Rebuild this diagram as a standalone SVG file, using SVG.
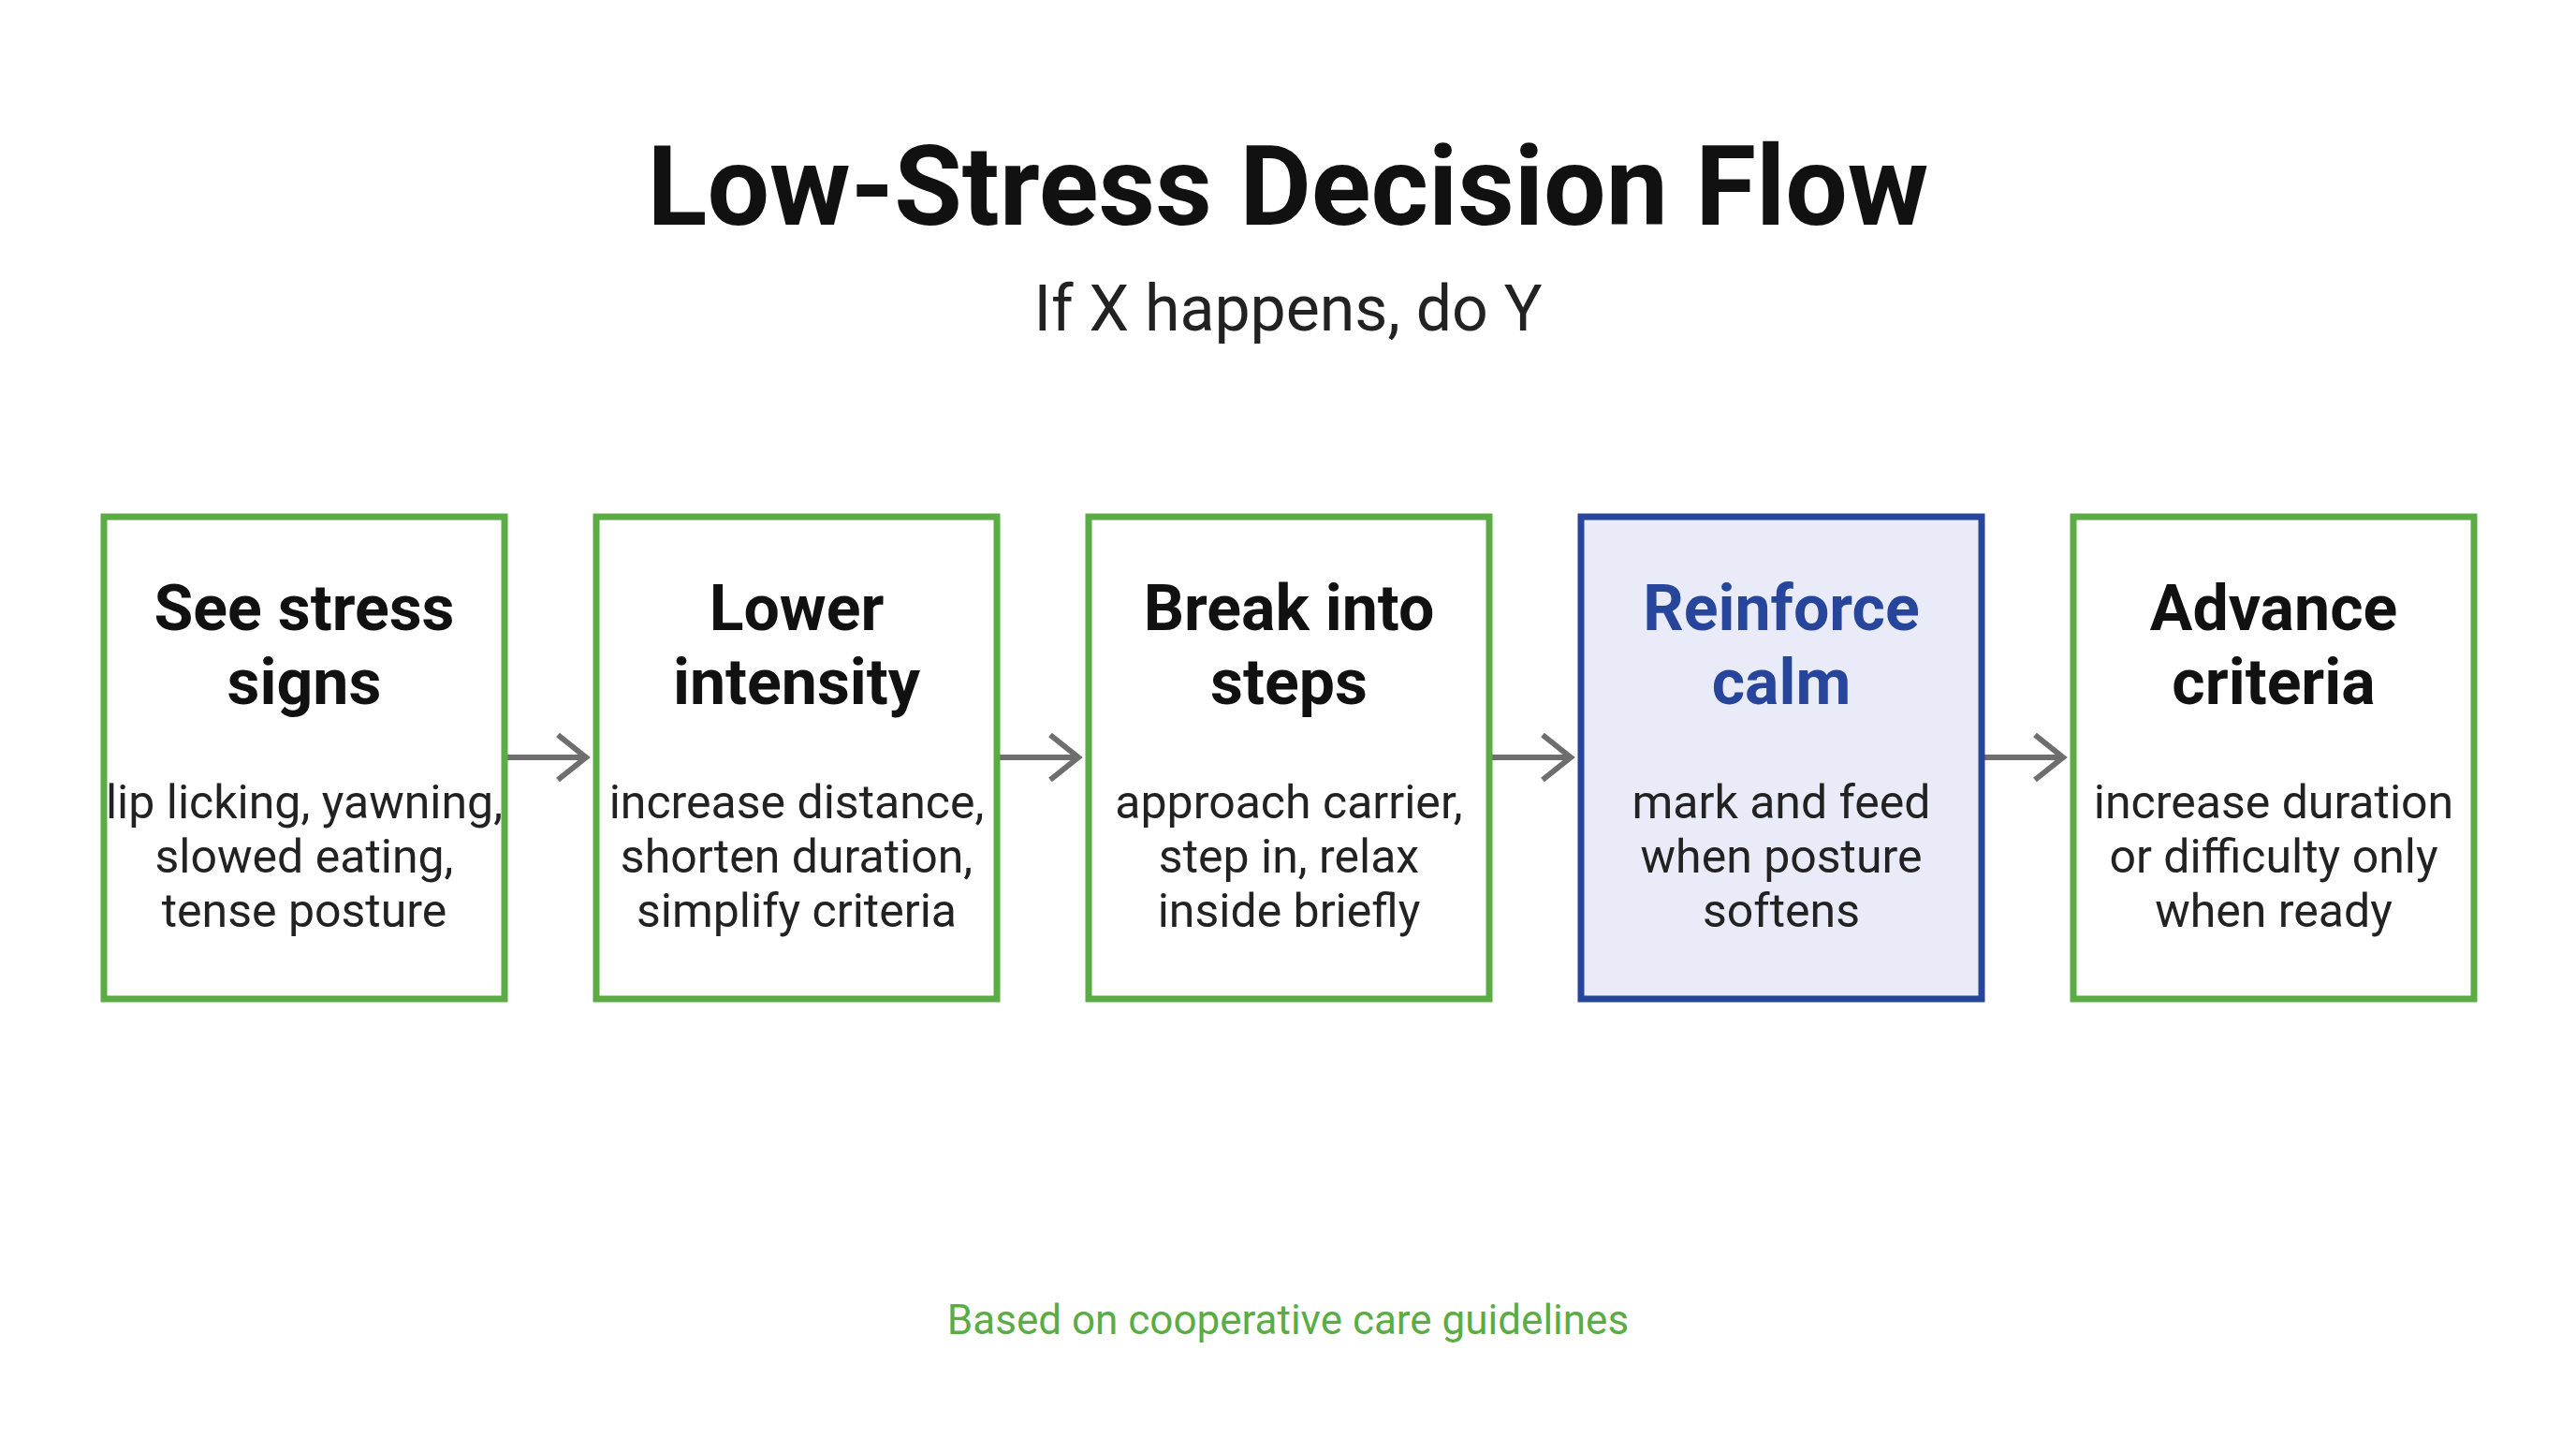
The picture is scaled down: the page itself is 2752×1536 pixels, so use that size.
<svg xmlns="http://www.w3.org/2000/svg" width="2752" height="1536" viewBox="0 0 2752 1536">
<style>
.box{fill:#fff;stroke:#5bac45;stroke-width:7}
.hl{fill:#e9ecf8;stroke:#27459a;stroke-width:7}
.h{font-family:Roboto,"Liberation Sans",sans-serif;font-weight:bold;font-size:68px;fill:#111;text-anchor:middle}
.hb{fill:#27459a}
.b{font-family:Roboto,"Liberation Sans",sans-serif;font-size:50px;fill:#222;text-anchor:middle}
.c{stroke:#6e6e6e;stroke-width:6;fill:none}
</style>
<defs><marker id="ah" viewBox="0 0 10 10" refX="9" refY="5" markerWidth="6" markerHeight="6" markerUnits="userSpaceOnUse" orient="auto"><path d="M1 0 L9 5 L1 10" fill="none" stroke="#6e6e6e" stroke-width="1.2"/></marker></defs>
<rect width="2752" height="1536" fill="#fff"/>
<text x="1376" y="240" font-family="Roboto,'Liberation Sans',sans-serif" font-weight="bold" font-size="118" text-anchor="middle" fill="#111">Low-Stress Decision Flow</text>
<text x="1376" y="353" font-family="Roboto,'Liberation Sans',sans-serif" font-size="68" text-anchor="middle" fill="#222">If X happens, do Y</text>
<g id="connectors">
<path class="c" d="M542 809 H626"/><path class="c" d="M596 785 L626 809 L596 833"/>
<path class="c" d="M1068 809 H1152"/><path class="c" d="M1122 785 L1152 809 L1122 833"/>
<path class="c" d="M1594 809 H1678"/><path class="c" d="M1648 785 L1678 809 L1648 833"/>
<path class="c" d="M2120 809 H2204"/><path class="c" d="M2174 785 L2204 809 L2174 833"/>
</g>
<g id="n1"><rect class="box" x="111" y="552" width="428" height="515"/>
<text class="h" x="325" y="673">See stress</text><text class="h" x="325" y="752">signs</text>
<text class="b" x="325" y="874">lip licking, yawning,</text><text class="b" x="325" y="932">slowed eating,</text><text class="b" x="325" y="990">tense posture</text></g>
<g id="n2"><rect class="box" x="637" y="552" width="428" height="515"/>
<text class="h" x="851" y="673">Lower</text><text class="h" x="851" y="752">intensity</text>
<text class="b" x="851" y="874">increase distance,</text><text class="b" x="851" y="932">shorten duration,</text><text class="b" x="851" y="990">simplify criteria</text></g>
<g id="n3"><rect class="box" x="1163" y="552" width="428" height="515"/>
<text class="h" x="1377" y="673">Break into</text><text class="h" x="1377" y="752">steps</text>
<text class="b" x="1377" y="874">approach carrier,</text><text class="b" x="1377" y="932">step in, relax</text><text class="b" x="1377" y="990">inside briefly</text></g>
<g id="n4"><rect class="hl" x="1689" y="552" width="428" height="515"/>
<text class="h hb" x="1903" y="673">Reinforce</text><text class="h hb" x="1903" y="752">calm</text>
<text class="b" x="1903" y="874">mark and feed</text><text class="b" x="1903" y="932">when posture</text><text class="b" x="1903" y="990">softens</text></g>
<g id="n5"><rect class="box" x="2215" y="552" width="428" height="515"/>
<text class="h" x="2429" y="673">Advance</text><text class="h" x="2429" y="752">criteria</text>
<text class="b" x="2429" y="874">increase duration</text><text class="b" x="2429" y="932">or difficulty only</text><text class="b" x="2429" y="990">when ready</text></g>
<text x="1376" y="1425" font-family="Roboto,'Liberation Sans',sans-serif" font-size="44" text-anchor="middle" fill="#5bac45">Based on cooperative care guidelines</text>
</svg>
